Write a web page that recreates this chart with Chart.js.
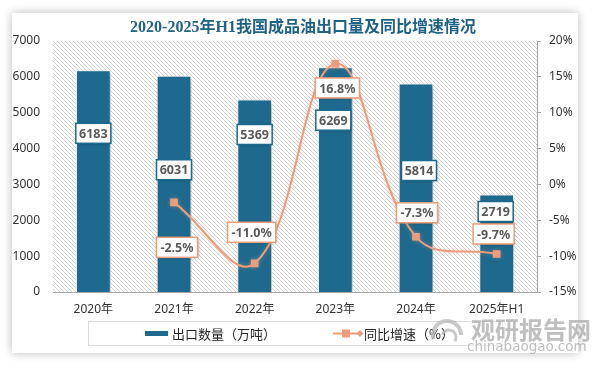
<!DOCTYPE html>
<html>
<head>
<meta charset="utf-8">
<script src="https://cdn.jsdelivr.net/npm/chart.js@4.4.1/dist/chart.umd.min.js"></script>
<style>
html, body { margin: 0; padding: 0; background: #fff; width: 593px; height: 365px; overflow: hidden; }
#card { position: absolute; left: 12px; top: 13px; width: 566px; height: 340px; background: #fff; box-shadow: 0 0 9px rgba(0,0,0,0.28); }
#wrap { position: absolute; left: 0; top: 0; width: 593px; height: 365px; }
</style>
</head>
<body>
<div id="card"></div>
<div id="wrap"><canvas id="chart" width="593" height="365"></canvas></div>
<script>
// 数据
const categories = ['2020年', '2021年', '2022年', '2023年', '2024年', '2025年H1'];
const exportVolume = [6183, 6031, 5369, 6269, 5814, 2719];
const yoyGrowth = [null, -2.5, -11.0, 16.8, -7.3, -9.7];
const volumeTicks = [0, 1000, 2000, 3000, 4000, 5000, 6000, 7000];
const growthTicks = [-15, -10, -5, 0, 5, 10, 15, 20];

const barColor = '#1d6a8e';
const lineColor = '#eb9d7c';

// 标签偏移（像素）
const barLabelShift = [[0, 63], [0, 94], [0, 35], [-2, 53], [3, 87], [-1, 17]];
const lineLabelShift = [[0, 0], [3, 45], [-3, -31], [2, 24], [1, -24], [-3, -20]];

// 斜线底纹
function makeHatch() {
    const p = document.createElement('canvas');
    p.width = 4; p.height = 4;
    const g = p.getContext('2d');
    g.fillStyle = '#ffffff';
    g.fillRect(0, 0, 4, 4);
    g.strokeStyle = '#d3d3d3';
    g.lineWidth = 1;
    g.beginPath();
    g.moveTo(-1, -1); g.lineTo(5, 5);
    g.moveTo(-1, 3); g.lineTo(1, 5);
    g.moveTo(3, -1); g.lineTo(5, 1);
    g.stroke();
    return p;
}

const hatchPlugin = {
    id: 'hatch',
    beforeDraw(chart) {
        const { ctx, chartArea: a } = chart;
        ctx.save();
        ctx.fillStyle = ctx.createPattern(makeHatch(), 'repeat');
        ctx.fillRect(a.left, a.top, a.right - a.left, a.bottom - a.top);
        ctx.restore();
    }
};

const shadowPlugin = {
    id: 'shadow',
    beforeDatasetDraw(chart, args) {
        const ctx = chart.ctx;
        ctx.save();
        if (args.index === 0) {
            ctx.shadowColor = 'rgba(0,0,0,0.35)';
            ctx.shadowBlur = 6;
            ctx.shadowOffsetX = 2;
            ctx.shadowOffsetY = 2;
        } else {
            ctx.shadowColor = 'rgba(235,157,124,0.4)';
            ctx.shadowBlur = 4;
        }
    },
    afterDatasetDraw(chart) {
        chart.ctx.restore();
    }
};

function drawBox(ctx, cx, cy, text, w, border) {
    const h = 20;
    ctx.save();
    ctx.shadowColor = 'rgba(0,0,0,0.25)';
    ctx.shadowBlur = 3;
    ctx.shadowOffsetX = 1;
    ctx.shadowOffsetY = 1;
    ctx.fillStyle = '#fff';
    ctx.fillRect(cx - w / 2, cy - h / 2, w, h);
    ctx.restore();
    ctx.save();
    ctx.strokeStyle = border;
    ctx.lineWidth = 1.5;
    ctx.strokeRect(cx - w / 2, cy - h / 2, w, h);
    ctx.fillStyle = '#595959';
    ctx.font = 'bold 12.5px "Noto Sans", sans-serif';
    ctx.textAlign = 'center';
    ctx.textBaseline = 'middle';
    ctx.fillText(text, cx, cy + 1);
    ctx.restore();
}

const labelPlugin = {
    id: 'labels',
    afterDatasetsDraw(chart) {
        const ctx = chart.ctx;
        const bars = chart.getDatasetMeta(0).data;
        bars.forEach((bar, i) => {
            const s = barLabelShift[i];
            drawBox(ctx, bar.x + s[0], bar.y + s[1], String(exportVolume[i]), 35, barColor);
        });
        const pts = chart.getDatasetMeta(1).data;
        pts.forEach((pt, i) => {
            if (yoyGrowth[i] === null) return;
            const s = lineLabelShift[i];
            const txt = yoyGrowth[i].toFixed(1) + '%';
            ctx.font = 'bold 12.5px "Noto Sans", sans-serif';
            const w = ctx.measureText(txt).width + 8;
            drawBox(ctx, pt.x + s[0], pt.y + s[1], txt, w, lineColor);
        });
    }
};

const decorPlugin = {
    id: 'decor',
    afterDraw(chart) {
        const ctx = chart.ctx;
        ctx.save();
        // 标题
        ctx.fillStyle = '#1f6286';
        ctx.font = 'bold 16px "Liberation Serif", "Noto Sans CJK SC", serif';
        ctx.textAlign = 'center';
        ctx.textBaseline = 'middle';
        ctx.fillText('2020-2025年H1我国成品油出口量及同比增速情况', 303, 28);

        // 图例
        ctx.strokeStyle = '#d9d9d9';
        ctx.lineWidth = 1;
        ctx.strokeRect(88.5, 321.5, 414, 24);
        ctx.fillStyle = barColor;
        ctx.fillRect(145, 331, 23, 5);
        ctx.fillStyle = '#262626';
        ctx.font = '13px "Noto Sans CJK SC", sans-serif';
        ctx.textAlign = 'left';
        ctx.fillText('出口数量（万吨）', 172, 334);
        ctx.strokeStyle = lineColor;
        ctx.lineWidth = 2;
        ctx.beginPath();
        ctx.moveTo(333, 333.5); ctx.lineTo(360, 333.5);
        ctx.stroke();
        ctx.fillStyle = lineColor;
        ctx.fillRect(342, 329.5, 8, 8);
        ctx.beginPath();
        ctx.moveTo(360, 330); ctx.lineTo(363.5, 333.5); ctx.lineTo(360, 337); ctx.lineTo(356.5, 333.5);
        ctx.fill();
        ctx.fillStyle = '#262626';
        ctx.fillText('同比增速（%）', 364, 334);

        // 水印
        ctx.globalAlpha = 0.75;
        ctx.strokeStyle = '#b5b5b5';
        ctx.lineWidth = 4;
        ctx.beginPath();
        ctx.arc(447, 335, 14, Math.PI * 0.9, Math.PI * 2.0);
        ctx.stroke();
        ctx.lineWidth = 3;
        ctx.beginPath();
        ctx.arc(449, 337, 7, Math.PI * 1.1, Math.PI * 2.2);
        ctx.stroke();
        ctx.fillStyle = 'rgba(255,255,255,0.6)';
        ctx.fillRect(466, 319, 112, 32);
        ctx.fillStyle = '#a9a9a9';
        ctx.font = 'bold 24px "Noto Sans CJK SC", sans-serif';
        ctx.textAlign = 'left';
        ctx.fillText('观研报告网', 471, 330);
        ctx.font = '13.5px "DejaVu Sans", sans-serif';
        ctx.fillText('chinabaogao.com', 467, 347);
        ctx.restore();
    }
};

const ctx = document.getElementById('chart');
new Chart(ctx, {
    data: {
        labels: categories,
        datasets: [
            {
                type: 'bar',
                label: '出口数量（万吨）',
                data: exportVolume,
                backgroundColor: barColor,
                borderColor: '#ffffff',
                borderWidth: 1,
                barPercentage: 0.43,
                categoryPercentage: 1,
                yAxisID: 'y',
                order: 2
            },
            {
                type: 'line',
                label: '同比增速（%）',
                data: yoyGrowth,
                borderColor: lineColor,
                backgroundColor: lineColor,
                borderWidth: 2,
                pointStyle: 'rect',
                pointRadius: 4,
                pointHoverRadius: 4,
                tension: 0.4,
                yAxisID: 'y1',
                order: 1
            }
        ]
    },
    options: {
        responsive: false,
        animation: false,
        devicePixelRatio: 1,
        layout: { padding: { top: 41, bottom: 43, left: 0, right: 0 } },
        plugins: {
            legend: { display: false },
            tooltip: { enabled: false }
        },
        scales: {
            x: {
                grid: { display: false, drawTicks: false },
                border: { color: '#a6a6a6', width: 1 },
                ticks: { color: '#333', font: { size: 12, family: '"Noto Sans", "Noto Sans CJK SC", sans-serif' }, padding: 10, autoSkip: false, maxRotation: 0 },
                afterFit(s) { s.height = 30; }
            },
            y: {
                position: 'left',
                min: 0,
                max: 7000,
                afterBuildTicks(s) { s.ticks = volumeTicks.map(v => ({ value: v })); },
                grid: { display: false, drawTicks: false },
                border: { display: false },
                ticks: { color: '#333', font: { size: 12, family: '"Noto Sans", sans-serif' }, padding: 13, autoSkip: false, callback: v => String(v) },
                afterFit(s) { s.width = 53; }
            },
            y1: {
                position: 'right',
                min: -15,
                max: 20,
                afterBuildTicks(s) { s.ticks = growthTicks.map(v => ({ value: v })); },
                grid: { drawOnChartArea: false, tickLength: 4, color: '#a6a6a6' },
                border: { color: '#a6a6a6', width: 1 },
                ticks: {
                    color: '#333',
                    font: { size: 12, family: '"Noto Sans", sans-serif' },
                    padding: 8,
                    autoSkip: false,
                    callback: v => v + '%'
                },
                afterFit(s) { s.width = 56; }
            }
        }
    },
    plugins: [hatchPlugin, shadowPlugin, labelPlugin, decorPlugin]
});
</script>
</body>
</html>
